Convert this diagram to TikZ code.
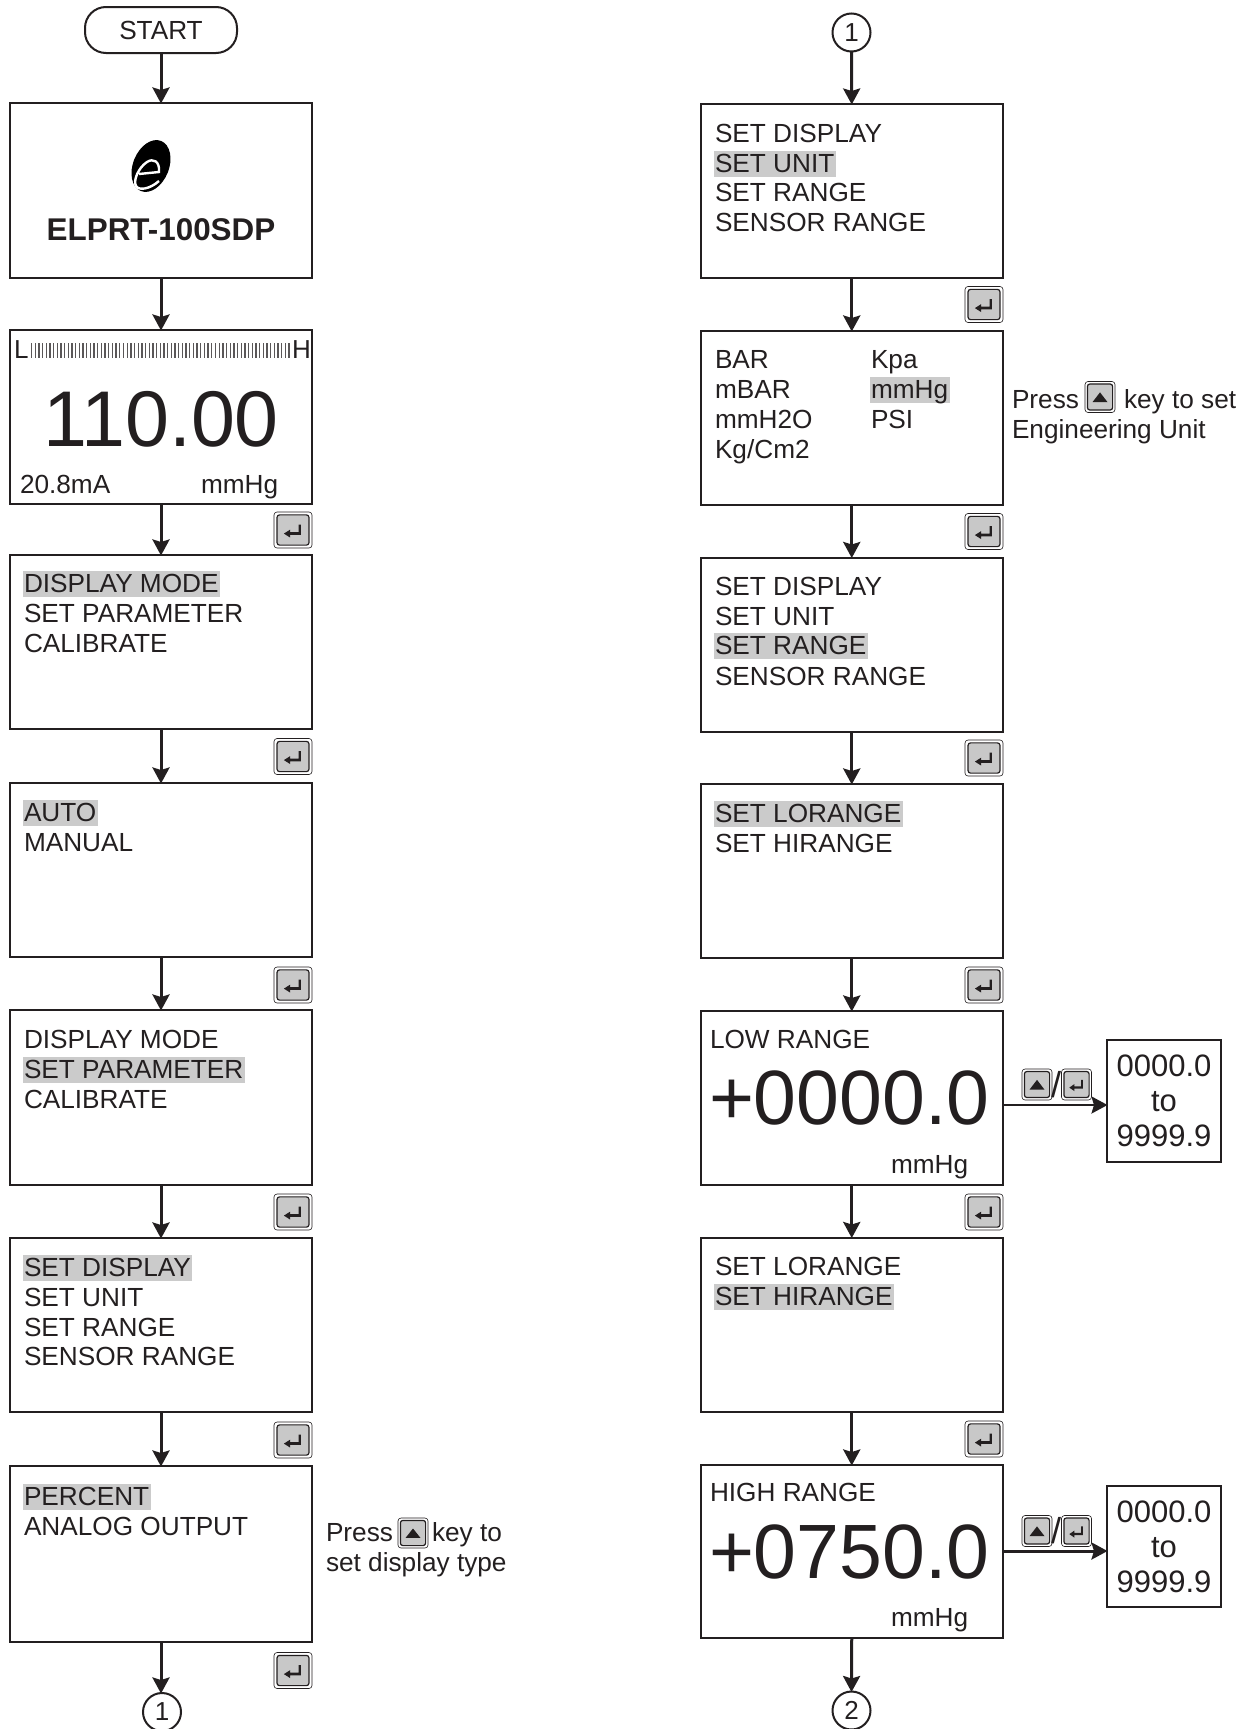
\documentclass[tikz,border=0pt]{standalone}
\usepackage{fontspec}
\setmainfont{Liberation Sans}
\usetikzlibrary{arrows.meta}
\definecolor{ink}{HTML}{231F20}
\definecolor{hlgray}{HTML}{CBCBCB}
\definecolor{keygray}{HTML}{C8C8C8}
\newcommand{\fs}[1]{\fontsize{#1}{#1}\selectfont}
\tikzset{
  ink line/.style={draw=ink,line width=2pt},
  scrbox/.style={ink line,fill=white,rectangle,inner sep=0pt,outer sep=0pt,anchor=north west},
  txt/.style={anchor=base west,inner sep=0pt,outer sep=0pt,text=ink,font=\fs{26.2}},
  hl/.style={txt,fill=hlgray,inner xsep=1.5pt,xshift=-1.5pt,text height=21pt,text depth=4.5pt},
  big/.style={anchor=base west,inner sep=0pt,outer sep=0pt,text=ink,font=\fs{77}},
  flow/.style={draw=ink,line width=3pt,-{Stealth[length=16pt,width=17pt,inset=2.5pt]},shorten >=-0.5pt},
  num/.style={ink line,circle,minimum size=38pt,inner sep=0pt,outer sep=0pt,text=ink,font=\fs{26}},
  rangebox/.style={scrbox,align=center,text=ink,font=\fs{31}},
  enterkey/.pic={
    \draw[ink,line width=0.6pt,fill=white,rounded corners=3pt] (-1,-1) rectangle (1,1);
    \draw[ink,line width=1.2pt,fill=keygray,rounded corners=2.5pt] (-0.84,-0.84) rectangle (0.84,0.84);
    \fill[ink] (0.3,-0.3) -- (0.42,-0.3) -- (0.42,0.27) -- (-0.15,0.27) -- (-0.15,0.42) -- (-0.48,0.2) -- (-0.15,-0.02) -- (-0.15,0.12) -- (0.3,0.12) -- cycle;
  },
  upkey/.pic={
    \draw[ink,line width=0.6pt,fill=white,rounded corners=3pt] (-1,-1) rectangle (1,1);
    \draw[ink,line width=1.2pt,fill=keygray,rounded corners=2.5pt] (-0.84,-0.84) rectangle (0.84,0.84);
    \fill[ink] (-0.5,0.33) -- (0.5,0.33) -- (0,-0.3) -- cycle;
  }
}
\newcommand{\scr}[5]{\pgfmathsetlengthmacro{\scrw}{#4-#2}\pgfmathsetlengthmacro{\scrh}{#5-#3}%
  \node[scrbox,minimum width=\scrw,minimum height=\scrh] (#1) at (#2,#3) {};}
\newcommand{\ekey}[2]{\begin{scope}[shift={(#1,#2)},x=19pt,y=-18pt]\pic at (0,0) {enterkey};\end{scope}}
\newcommand{\ukey}[4]{\begin{scope}[shift={(#1,#2)},x=#3pt,y=-#4pt]\pic at (0,0) {upkey};\end{scope}}
\newcommand{\ekeys}[2]{\begin{scope}[shift={(#1,#2)},x=15pt,y=-15.5pt]\pic at (0,0) {enterkey};\end{scope}}
\begin{document}
\begin{tikzpicture}[x=1pt,y=-1pt]
\useasboundingbox (0,0) rectangle (1248,1729);
\fill[white] (0,0) rectangle (1248,1729);

% left column
\node[ink line,rounded corners=21pt,minimum width=152pt,minimum height=46pt,inner sep=0pt,outer sep=0pt,text=ink,font=\fs{26.2}] (start) at (161,30) {START};
\scr{l1}{10}{103}{312}{278}
\scr{l2}{10}{330}{312}{504}
\scr{l3}{10}{555}{312}{729}
\scr{l4}{10}{783}{312}{957}
\scr{l5}{10}{1010}{312}{1185}
\scr{l6}{10}{1238}{312}{1412}
\scr{l7}{10}{1466}{312}{1642}
\node[num] (c1l) at (162,1712) {1};

% right column
\node[num] (c1r) at (851.5,32.5) {1};
\scr{r1}{700.5}{104}{1003}{278}
\scr{r2}{700.5}{331}{1003}{505}
\scr{r3}{700.5}{557.5}{1003}{732}
\scr{r4}{700.5}{784}{1003}{958}
\scr{r5}{700.5}{1011}{1003}{1185}
\scr{r6}{700.5}{1237.5}{1003}{1412}
\scr{r7}{700.5}{1465}{1003}{1638}
\node[num] (c2r) at (851.5,1710.5) {2};

% flow
\draw[flow] (start.south) -- (l1.north);
\draw[flow] (l1.south) -- (l2.north);
\draw[flow] (l2.south) -- (l3.north);
\draw[flow] (l3.south) -- (l4.north);
\draw[flow] (l4.south) -- (l5.north);
\draw[flow] (l5.south) -- (l6.north);
\draw[flow] (l6.south) -- (l7.north);
\draw[flow] (l7.south) -- (l7.south |- c1l.north);
\draw[flow] (c1r.south) -- (r1.north);
\draw[flow] (r1.south) -- (r2.north);
\draw[flow] (r2.south) -- (r3.north);
\draw[flow] (r3.south) -- (r4.north);
\draw[flow] (r4.south) -- (r5.north);
\draw[flow] (r5.south) -- (r6.north);
\draw[flow] (r6.south) -- (r7.north);
\draw[flow] (r7.south) -- (c2r.north);

% logo
\begin{scope}[shift={(0,11)}]
\fill[black,rotate around={-22:(151,155)}] (151,155) ellipse [x radius=18,y radius=27];
\draw[white,line width=2.4pt] (139,163) -- (159,161) .. controls (160,150) and (153,147) .. (147,151) .. controls (138,157) and (133,170) .. (136,175) .. controls (139,180) and (150,178) .. (159,170);
\end{scope}
\node[txt,font=\bfseries\fs{31.4},anchor=base] (title) at (161,240) {ELPRT-100SDP};

% bargraph screen
\node[txt,font=\fs{26}] (barL) at (14,358) {L};
\node[txt,font=\fs{26}] (barH) at (292,358) {H};
\foreach \i in {0,...,70} {\draw[ink!75,line width=1.3pt] ({31.5+\i*3.68},343) -- ({31.5+\i*3.68},358);}
\node[big,anchor=base,font=\fs{79}] (val) at (161,446) {110.00};
\node[txt] (ma) at (20,493) {20.8mA};
\node[txt] (unit) at (201,493) {mmHg};

% left menus
\node[hl] (a1) at (24,592) {DISPLAY MODE};
\node[txt] (a2) at (24,622) {SET PARAMETER};
\node[txt] (a3) at (24,652) {CALIBRATE};
\node[hl] (b1) at (24,821) {AUTO};
\node[txt] (b2) at (24,851) {MANUAL};
\node[txt] (d1) at (24,1048) {DISPLAY MODE};
\node[hl] (d2) at (24,1078) {SET PARAMETER};
\node[txt] (d3) at (24,1108) {CALIBRATE};
\node[hl] (e1) at (24,1276) {SET DISPLAY};
\node[txt] (e2) at (24,1306) {SET UNIT};
\node[txt] (e3) at (24,1336) {SET RANGE};
\node[txt] (e4) at (24,1365) {SENSOR RANGE};
\node[hl] (f1) at (24,1505) {PERCENT};
\node[txt] (f2) at (24,1535) {ANALOG OUTPUT};
\node[txt] (p1) at (326,1541) {Press};
\node[txt] (p2) at (432,1541) {key to};
\node[txt] (p3) at (326,1571) {set display type};
\ukey{413}{1533}{15}{15}

% right menus
\node[txt] (g1) at (715,142) {SET DISPLAY};
\node[hl] (g2) at (715,172) {SET UNIT};
\node[txt] (g3) at (715,201) {SET RANGE};
\node[txt] (g4) at (715,231) {SENSOR RANGE};
\node[txt] (h1) at (715,368) {BAR};
\node[txt] (h2) at (715,398) {mBAR};
\node[txt] (h3) at (715,428) {mmH2O};
\node[txt] (h4) at (715,458) {Kg/Cm2};
\node[txt] (h5) at (871,368) {Kpa};
\node[hl] (h6) at (871,398) {mmHg};
\node[txt] (h7) at (871,428) {PSI};
\node[txt] (q1) at (1012,408) {Press};
\node[txt] (q2) at (1124,408) {key to set};
\node[txt] (q3) at (1012,438) {Engineering Unit};
\ukey{1100}{397}{15}{15.5}
\node[txt] (i1) at (715,595) {SET DISPLAY};
\node[txt] (i2) at (715,625) {SET UNIT};
\node[hl] (i3) at (715,654) {SET RANGE};
\node[txt] (i4) at (715,685) {SENSOR RANGE};
\node[hl] (j1) at (715,822) {SET LORANGE\ };
\node[txt] (j2) at (715,852) {SET HIRANGE};
\node[txt] (k1) at (710,1048) {LOW RANGE};
\node[big] (k2) at (709,1124) {+0000.0};
\node[txt] (k3) at (891,1173) {mmHg};
\node[txt] (m1) at (715,1275) {SET LORANGE};
\node[hl] (m2) at (715,1305) {SET HIRANGE\ };
\node[txt] (n1) at (710,1501) {HIGH RANGE};
\node[big] (n2) at (709,1578) {+0750.0};
\node[txt] (n3) at (891,1626) {mmHg};

% range side boxes
\node[rangebox,minimum width=114pt,minimum height=122pt] (s1) at (1107,1040) {0000.0\\[4pt]to\\[4pt]9999.9};
\node[rangebox,minimum width=114pt,minimum height=121pt] (s2) at (1107,1486) {0000.0\\[4pt]to\\[4pt]9999.9};
\coordinate (t1) at (1004,1105);
\coordinate (t2) at (1004,1551);
\draw[flow,line width=2.4pt] (t1) -- (t1 -| s1.west);
\draw[flow] (t2) -- (t2 -| s2.west);
\ukey{1037}{1084.5}{15}{15.5}
\node[txt,font=\fs{36},anchor=base] (sl1) at (1056,1097) {/};
\ekeys{1076.5}{1084.5}
\ukey{1037}{1531}{15}{15.5}
\node[txt,font=\fs{36},anchor=base] (sl2) at (1056,1543) {/};
\ekeys{1076.5}{1531}

% enter keys
\ekey{293}{530}
\ekey{293}{756.5}
\ekey{293}{985}
\ekey{293}{1212}
\ekey{293}{1440}
\ekey{293}{1670.5}
\ekey{984}{304.5}
\ekey{984}{531.5}
\ekey{984}{758}
\ekey{984}{985}
\ekey{984}{1212}
\ekey{984}{1439}
\end{tikzpicture}
\end{document}
